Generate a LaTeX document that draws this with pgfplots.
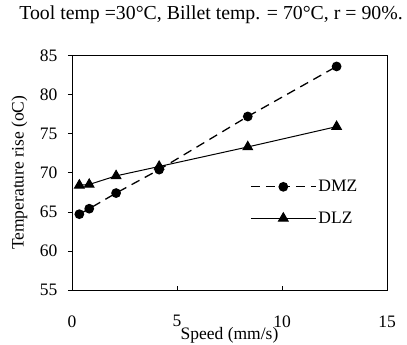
\documentclass[border=0pt]{standalone}
\usepackage{pgfplots}
\pgfplotsset{compat=1.18}
\usepackage{fontspec}
\setmainfont{Liberation Serif}
\begin{document}
\begin{tikzpicture}
\path[use as bounding box] (0pt,0pt) rectangle (407pt,345pt);
\node[font=\fontsize{19.8}{22}\selectfont] at (211pt,330pt) {Tool temp =30\textdegree C, Billet temp. = 70\textdegree C, r = 90\%.};
\begin{axis}[
  at={(72pt,55pt)}, anchor=south west,
  scale only axis, width=315pt, height=234.5pt,
  xmin=0, xmax=15, ymin=55, ymax=85,
  xtick={0,5,10,15}, ytick={55,60,...,85},
  axis line style={line width=0.7pt},
  tick style={black, line width=0.6pt},
  major tick length=4pt,
  xtick pos=bottom, ytick pos=left,
  xtick align=inside, ytick align=outside,
  /pgf/number format/assume math mode=true,
  tick label style={font=\fontsize{17.5}{20}\selectfont},
  xticklabel style={yshift=-22pt},
  yticklabel style={xshift=-7pt},
  xlabel={Speed (mm/s)}, ylabel={Temperature rise (oC)},
  label style={font=\fontsize{17.5}{20}\selectfont},
  x label style={at={(axis description cs:0.5,-0.192)}, anchor=center},
  y label style={at={(axis description cs:-0.1667,0.5)}, anchor=center},
  legend image code/.code={\draw[mark repeat=2,mark phase=2,#1] plot coordinates {(0pt,0pt) (32.5pt,0pt) (65pt,0pt)};},
  legend style={draw=none, fill=none, at={(axis description cs:0.565,0.477)}, anchor=north west, font=\fontsize{17.5}{20}\selectfont, row sep=14.5pt, inner sep=0pt},
  legend cell align=left,
]
\addplot[black, line width=1.3pt, dash pattern=on 9pt off 6pt, mark=*, mark size=4.2pt, mark options={solid}]
coordinates {(0.35,64.7) (0.82,65.4) (2.1,67.4) (4.15,70.4) (8.37,77.2) (12.6,83.6)};
\addlegendentry{DMZ}
\addplot[black, line width=1.0pt, mark=triangle*, mark size=5.5pt, mark options={solid}]
coordinates {(0.35,68.4) (0.82,68.5) (2.1,69.6) (4.15,70.8) (8.37,73.3) (12.6,75.9)};
\addlegendentry{DLZ}
\end{axis}
\end{tikzpicture}
\end{document}
